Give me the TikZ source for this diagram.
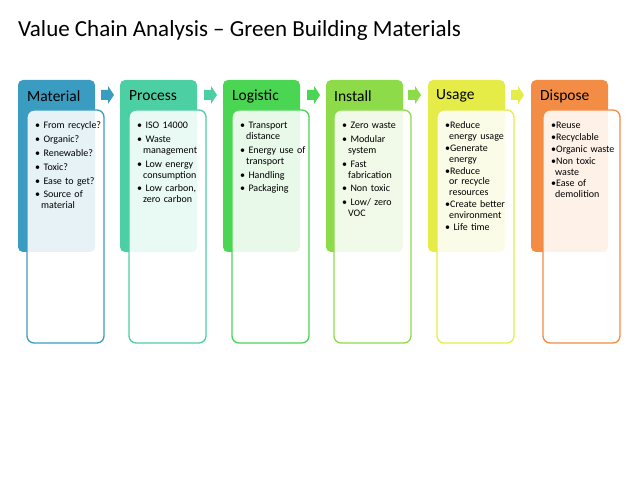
\documentclass[tikz,border=0pt]{standalone}
\usepackage{fontspec}
\setmainfont{Carlito}
\definecolor{cA}{HTML}{3A9CC0}
\definecolor{cB}{HTML}{4CCFA2}
\definecolor{cC}{HTML}{4AD552}
\definecolor{cD}{HTML}{8DDB48}
\definecolor{cE}{HTML}{E5EC48}
\definecolor{cF}{HTML}{F38D45}
\hyphenpenalty=10000 \exhyphenpenalty=10000
\newcommand{\itm}[1]{\par\hangindent=6pt\hangafter=1 \textbullet\ #1\par\vspace{3pt}}
\newcommand{\itn}[1]{\par\hangindent=4pt\hangafter=1 \textbullet#1\par\vspace{1pt}}
\tikzset{
 hdr/.style={rounded corners=5pt},
 card/.style={draw=#1,line width=1.3pt,rounded corners=7pt,fill=white,fill opacity=0.88},
 body/.style={anchor=north west,align=left,text width=66pt,font=\fontsize{10}{10.8}\selectfont,inner sep=0pt},
 htext/.style={anchor=west,font=\fontsize{15.5}{17}\selectfont,inner sep=0pt},
}
\newcommand{\col}[7]{% x, color, title, name, body, shift, offset
 \fill[#2,hdr] (#1,80) rectangle ++(77,172);
 \draw[card=#2] (#1+#6,110) rectangle ++(77,233);
 \node[htext] (#4h) at (#1+#7,96) {#3};
 \node[body] (#4b) at (#1+#6+8,118) {#5};
}
\newcommand{\arr}[2]{\fill[#2] (#1,90) -- (#1+7,90) -- (#1+7,86) -- (#1+13,95) -- (#1+7,104) -- (#1+7,100) -- (#1,100) -- cycle;}
\begin{document}
\begin{tikzpicture}[x=1pt,y=-1pt]
\useasboundingbox (0,0) rectangle (638,478);
\node[anchor=west,font=\fontsize{23}{26}\selectfont,inner sep=0pt] (title) at (18,30) {Value Chain Analysis – Green Building Materials};
\col{18}{cA}{Material}{m}{\itm{From recycle?}\itm{Organic?}\itm{Renewable?}\itm{Toxic?}\itm{Ease to get?}\itm{Source of material}}{9}{9}
\col{120}{cB}{Process}{p}{\itm{ISO 14000}\itm{Waste management}\itm{Low energy consumption}\itm{Low carbon, zero carbon}}{9}{9}
\col{223}{cC}{Logistic}{l}{\itm{Transport distance}\itm{Energy use of transport}\itm{Handling}\itm{Packaging}}{9}{9}
\col{326}{cD}{Install}{i}{\itm{Zero waste}\itm{Modular system}\itm{Fast fabrication}\itm{Non toxic}\itm{Low/ zero VOC}}{8}{8}
\col{428}{cE}{Usage}{u}{\itn{Reduce energy usage}\itn{Generate energy}\itn{Reduce or recycle resources}\itn{Create better environment}\itm{Life time}}{9}{8}
\col{531}{cF}{Dispose}{d}{\itn{Reuse}\itn{Recyclable}\itn{Organic waste}\itn{Non toxic waste}\itn{Ease of demolition}}{12}{9}
\arr{101}{cA}\arr{204}{cB}\arr{307}{cC}\arr{408}{cD}\arr{511}{cE}
\end{tikzpicture}
\end{document}
